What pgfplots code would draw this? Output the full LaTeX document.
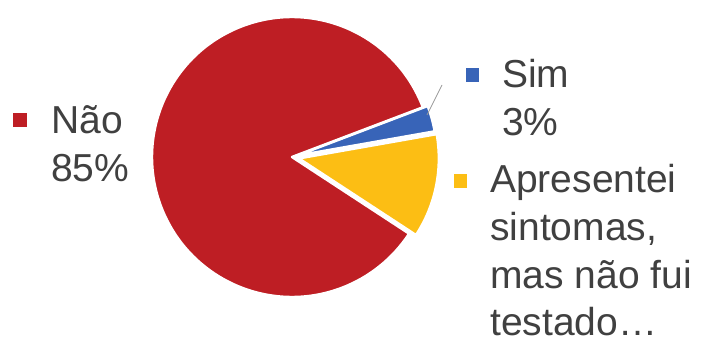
\documentclass[border=0pt]{standalone}
\usepackage{pgfplots}
\pgfplotsset{compat=1.18}
\usepackage{pgfplotstable}
\usepackage{fontspec}
\setmainfont{Liberation Sans}
\definecolor{cNao}{RGB}{190,30,36}
\definecolor{cSim}{RGB}{56,100,184}
\definecolor{cApr}{RGB}{252,190,20}
\definecolor{txt}{RGB}{64,64,64}
% order counterclockwise: Apresentei, Sim, Nao
\pgfplotstableread{
value explode
12 7
3 5
85 0
}\piedata
\begin{document}
\begin{tikzpicture}
\begin{axis}[width=707pt,height=338pt,scale only axis,
  xmin=0,xmax=707,ymin=0,ymax=338,hide axis,clip=false]
\xdef\cum{-33.2}
\foreach \i in {0,1,2}{
  \pgfplotstablegetelem{\i}{value}\of\piedata \let\v\pgfplotsretval
  \pgfplotstablegetelem{\i}{explode}\of\piedata \let\e\pgfplotsretval
  \ifcase\i \def\col{cApr}\or \def\col{cSim}\or \def\col{cNao}\fi
  \pgfmathsetmacro\a{\cum}
  \pgfmathsetmacro\b{\cum+3.6*\v}
  \pgfmathsetmacro\m{(\a+\b)/2}
  \pgfmathsetmacro\cx{292+\e*cos(\m)}
  \pgfmathsetmacro\cy{181+\e*sin(\m)}
  \edef\temp{\noexpand\fill[fill=\col, draw=white, line width=2.5pt, line join=round] (axis cs:\cx,\cy) -- ++(\a:140pt) arc[start angle=\a, end angle=\b, radius=140pt] -- cycle;}
  \temp
  \xdef\cum{\b}
}
\draw[gray!80, line width=0.8pt] (axis cs:427,223) -- (axis cs:442,253);
% legend
\fill[cNao] (axis cs:13,211) rectangle (axis cs:27,225);
\fill[cSim] (axis cs:466,256) rectangle (axis cs:479,270);
\fill[cApr] (axis cs:454,150) rectangle (axis cs:467,164);
\tikzset{lt/.style={anchor=base west, inner sep=0pt, text=txt, font=\fontsize{39}{48}\selectfont}}
\node[lt] at (axis cs:51,205) {Não};
\node[lt] at (axis cs:51,157) {85\%};
\node[lt] at (axis cs:502,251) {Sim};
\node[lt] at (axis cs:502,203) {3\%};
\node[lt] at (axis cs:490,146) {Apresentei};
\node[lt] at (axis cs:490,98) {sintomas,};
\node[lt] at (axis cs:490,50) {mas não fui};
\node[lt] at (axis cs:490,3) {testado…};
\end{axis}
\pgfresetboundingbox
\useasboundingbox (current axis.south west) rectangle (current axis.north east);
\end{tikzpicture}
\end{document}
